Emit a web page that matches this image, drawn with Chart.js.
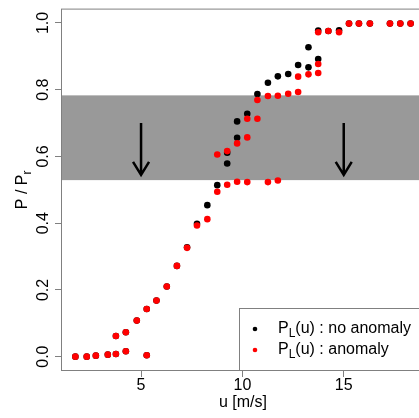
<!DOCTYPE html>
<html>
<head>
<meta charset="utf-8">
<script src="https://cdn.jsdelivr.net/npm/chart.js@4/dist/chart.umd.min.js"></script>
<style>
  html, body { margin: 0; padding: 0; background: #fff; overflow: hidden; }
  #wrap { width: 430px; height: 418px; }
</style>
</head>
<body>
<div id="wrap"><canvas id="powerChart"></canvas></div>
<script>
// Courbe de puissance : vitesse du vent (m/s) et P / Pr
const noAnomalyU = [1.76, 2.32, 2.77, 3.36, 3.76, 3.76, 4.25, 4.25, 4.79, 5.28, 5.28, 5.76, 6.27, 6.77, 7.27, 7.76,
    8.27, 8.76, 9.25, 9.25, 9.74, 9.74, 10.24, 10.74, 11.26, 11.75, 12.26, 12.75, 13.26, 13.26, 13.74, 13.74,
    14.24, 14.77, 15.26, 15.75, 16.29, 17.28, 17.79, 18.30];
const noAnomalyP = [0.000, 0.000, 0.003, 0.006, 0.008, 0.062, 0.016, 0.073, 0.108, 0.004, 0.143, 0.168, 0.210, 0.272, 0.328, 0.398,
    0.454, 0.514, 0.579, 0.611, 0.656, 0.705, 0.728, 0.787, 0.821, 0.840, 0.847, 0.874, 0.867, 0.927, 0.892, 0.977,
    0.976, 0.978, 0.998, 0.998, 0.998, 0.998, 0.998, 0.998];

const anomalyU = [1.76, 2.32, 2.77, 3.36, 3.76, 3.76, 4.25, 4.25, 4.79, 5.28, 5.28, 5.76, 6.27, 6.77, 7.27, 7.76,
    8.27, 8.76, 8.76, 9.25, 9.25, 9.74, 9.74, 10.24, 10.24, 10.24, 10.74, 10.74, 11.26, 11.26, 11.75, 11.75,
    12.26, 12.75, 12.75, 13.26, 13.74, 13.74, 13.74, 14.24, 14.77, 15.26, 15.75, 16.29, 17.28, 17.79, 18.30];
const anomalyP = [0.000, 0.000, 0.003, 0.006, 0.008, 0.062, 0.016, 0.073, 0.108, 0.004, 0.143, 0.168, 0.210, 0.272, 0.326, 0.393,
    0.412, 0.494, 0.606, 0.515, 0.616, 0.524, 0.639, 0.523, 0.657, 0.713, 0.713, 0.769, 0.523, 0.781, 0.528, 0.782,
    0.788, 0.793, 0.839, 0.846, 0.850, 0.877, 0.972, 0.976, 0.972, 0.998, 0.998, 0.998, 0.998, 0.998, 0.998];

const xTicks = [5, 10, 15];
const yTicks = [0, 0.2, 0.4, 0.6, 0.8, 1.0];
const bandLimits = [0.529, 0.783];
const arrowU = [5, 15];
const arrowFrom = 0.70;
const arrowTo = 0.545;
const legendRows = [
    { color: '#000000', text: '(u) : no anomaly' },
    { color: '#ff0000', text: '(u) : anomaly' }
];

const FONT = "'Liberation Sans', Arial, Helvetica, sans-serif";
const LINE = '#808080';

function toPoints(us, ps) {
    return us.map((u, i) => ({ x: u, y: ps[i] }));
}

// Bande grise, flèches, cadre, légende et titre Y
const decorPlugin = {
    id: 'decor',
    beforeDatasetsDraw(chart) {
        const { ctx, chartArea, scales } = chart;
        const yTop = scales.y.getPixelForValue(bandLimits[1]);
        const yBot = scales.y.getPixelForValue(bandLimits[0]);
        ctx.save();
        ctx.fillStyle = '#999999';
        ctx.fillRect(chartArea.left, yTop, chartArea.right - chartArea.left, yBot - yTop);
        ctx.restore();
    },
    afterDatasetsDraw(chart) {
        const { ctx, scales } = chart;
        ctx.save();
        ctx.strokeStyle = '#000';
        ctx.lineWidth = 2.5;
        ctx.lineCap = 'butt';
        arrowU.forEach(u => {
            const x = scales.x.getPixelForValue(u);
            const y0 = scales.y.getPixelForValue(arrowFrom);
            const y1 = scales.y.getPixelForValue(arrowTo);
            ctx.beginPath();
            ctx.moveTo(x, y0);
            ctx.lineTo(x, y1);
            ctx.moveTo(x - 8, y1 - 13);
            ctx.lineTo(x, y1);
            ctx.lineTo(x + 8, y1 - 13);
            ctx.stroke();
        });
        ctx.restore();
    },
    afterDraw(chart) {
        const { ctx, chartArea } = chart;
        const { left, right, top, bottom } = chartArea;
        ctx.save();
        // cadre
        ctx.strokeStyle = LINE;
        ctx.lineWidth = 1;
        ctx.strokeRect(left - 0.5, top - 0.5, right - left + 1, bottom - top + 1);

        // légende
        const bx = right - 185, by = bottom - 62;
        ctx.fillStyle = '#fff';
        ctx.fillRect(bx, by, right - bx, bottom - by);
        ctx.strokeRect(bx + 0.5, by + 0.5, right - bx, bottom - by);
        legendRows.forEach((row, i) => {
            const cy = by + 21 + i * 21;
            ctx.fillStyle = row.color;
            ctx.beginPath();
            ctx.arc(bx + 16, cy, 2.3, 0, Math.PI * 2);
            ctx.fill();
            ctx.fillStyle = '#000';
            ctx.textBaseline = 'middle';
            ctx.textAlign = 'left';
            let tx = bx + 39;
            ctx.font = '16px ' + FONT;
            ctx.fillText('P', tx, cy);
            tx += ctx.measureText('P').width;
            ctx.font = '12px ' + FONT;
            ctx.fillText('L', tx, cy + 5);
            tx += ctx.measureText('L').width;
            ctx.font = '16px ' + FONT;
            ctx.fillText(row.text, tx, cy);
        });

        // titre de l'axe Y
        ctx.translate(23, (top + bottom) / 2);
        ctx.rotate(-Math.PI / 2);
        ctx.fillStyle = '#000';
        ctx.textBaseline = 'middle';
        ctx.font = '16px ' + FONT;
        const main = 'P / P';
        const wMain = ctx.measureText(main).width;
        ctx.font = '12px ' + FONT;
        const wSub = ctx.measureText('r').width;
        const start = -(wMain + wSub) / 2;
        ctx.font = '16px ' + FONT;
        ctx.textAlign = 'left';
        ctx.fillText(main, start, 0);
        ctx.font = '12px ' + FONT;
        ctx.fillText('r', start + wMain, 5);
        ctx.restore();
    }
};

function initChart() {
    const ctx = document.getElementById('powerChart').getContext('2d');

    new Chart(ctx, {
        type: 'scatter',
        data: {
            datasets: [{
                label: 'PL(u) : no anomaly',
                data: toPoints(noAnomalyU, noAnomalyP),
                backgroundColor: '#000000',
                borderWidth: 0,
                pointRadius: 3.3,
                order: 2
            }, {
                label: 'PL(u) : anomaly',
                data: toPoints(anomalyU, anomalyP),
                backgroundColor: '#ff0000',
                borderWidth: 0,
                pointRadius: 3.3,
                order: 1
            }]
        },
        options: {
            responsive: true,
            maintainAspectRatio: false,
            animation: false,
            layout: { padding: { top: 7, right: 6, left: 0, bottom: 0 } },
            plugins: {
                legend: { display: false },
                tooltip: { enabled: false }
            },
            scales: {
                x: {
                    type: 'linear',
                    min: 1.1,
                    max: 18.96,
                    afterBuildTicks: axis => { axis.ticks = xTicks.map(v => ({ value: v })); },
                    afterFit: axis => { axis.height = 48; },
                    border: { display: false },
                    grid: { drawOnChartArea: false, drawTicks: true, tickLength: 7, color: LINE },
                    ticks: {
                        padding: -1,
                        color: '#000',
                        font: { family: FONT, size: 16 },
                        callback: v => String(v)
                    },
                    title: {
                        display: true,
                        text: 'u [m/s]',
                        color: '#000',
                        font: { family: FONT, size: 16 },
                        padding: { top: 0, bottom: 6 }
                    }
                },
                y: {
                    type: 'linear',
                    min: -0.04,
                    max: 1.04,
                    afterBuildTicks: axis => { axis.ticks = yTicks.map(v => ({ value: v })); },
                    afterFit: axis => { axis.width = 62; },
                    border: { display: false },
                    grid: { drawOnChartArea: false, drawTicks: true, tickLength: 7, color: LINE },
                    ticks: {
                        minRotation: 90,
                        maxRotation: 90,
                        crossAlign: 'center',
                        padding: 0,
                        color: '#000',
                        font: { family: FONT, size: 16 },
                        callback: v => v.toFixed(1)
                    }
                }
            }
        },
        plugins: [decorPlugin]
    });
}

document.addEventListener('DOMContentLoaded', initChart);
</script>
</body>
</html>
